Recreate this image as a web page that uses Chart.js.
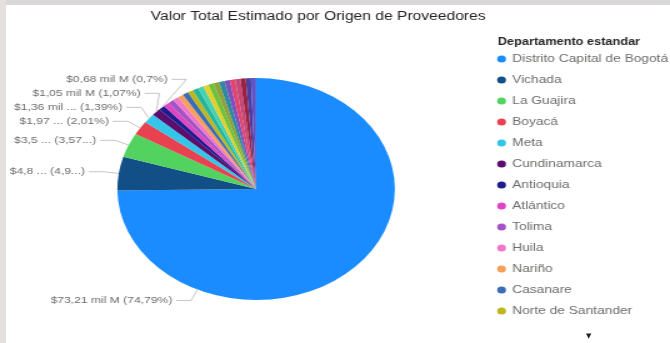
<!DOCTYPE html>
<html><head><meta charset="utf-8">
<script src="https://cdn.jsdelivr.net/npm/chart.js@4.4.1/dist/chart.umd.min.js"></script>
<style>
html,body{margin:0;padding:0;background:#fff;width:670px;height:343px;overflow:hidden;}
#wrap{position:absolute;left:0;top:0;width:536px;height:343px;transform:scaleX(1.25);transform-origin:0 0;}
#c{display:block;width:536px;height:343px;}
.frameTop{position:absolute;left:0;top:0;width:670px;height:5px;background:#d9d7d7;}
.frameLeft{position:absolute;left:0;top:0;width:6px;height:343px;background:#e3dfdf;}
#arrow{position:absolute;left:586px;top:332px;font:7px "DejaVu Sans",sans-serif;color:#252423;}
</style></head>
<body>
<div id="wrap"><canvas id="c" width="536" height="343"></canvas></div>
<div class="frameTop"></div><div class="frameLeft"></div>
<div id="arrow">▼</div>
<script>
// ---- data ----
const chartTitle = 'Valor Total Estimado por Origen de Proveedores';
const legendTitle = 'Departamento estandar';
const categories = [
  'Distrito Capital de Bogotá','Vichada','La Guajira','Boyacá','Meta','Cundinamarca','Antioquia',
  'Atlántico','Tolima','Huila','Nariño','Casanare','Norte de Santander',
  'Valle del Cauca','Santander','Bolívar','Caldas','Risaralda','Quindío','Magdalena','Cesar',
  'Córdoba','Sucre','Cauca','Caquetá'
];
// valores en mil M
const values = [
  73.21, 4.80, 3.50, 1.97, 1.36, 1.05, 0.68,
  0.68, 0.67, 0.66, 0.66, 0.65, 0.64,
  0.64, 0.63, 0.63, 0.62, 0.62, 0.62, 0.61, 0.61,
  0.60, 0.60, 0.60, 0.58
];
const colors = [
  '#1A8CFF','#134F87','#52D25E','#E8414F','#33C6E8','#5A0E6E','#1C1C8F',
  '#E044C1','#A254C6','#F178C9','#F5A05C','#3B6CB5','#BDB61F',
  '#24B49A','#47D1B0','#E3CF2B','#6DC13B','#8FA23A','#2B8A9E','#7E4FBF','#E0456E',
  '#C2497A','#9E1F3F','#4B3F9E','#5B55C8'
];
const dataLabelText = [
  '$73,21 mil M (74,79%)',
  '$4,8 ... (4,9...)',
  '$3,5 ... (3,57...)',
  '$1,97 ... (2,01%)',
  '$1,36 mil ... (1,39%)',
  '$1,05 mil M (1,07%)',
  '$0,68 mil M (0,7%)'
];
const legendCount = 13;

// ---- chart ----
const FONT = '"Liberation Sans", Arial, sans-serif';
Chart.defaults.font.family = FONT;

const tweak = {
  id: 'tweak',
  afterLayout(chart, args, opts) {
    const lg = chart.legend;
    lg.left += opts.legendShift; lg.right += opts.legendShift;
    const t = chart.titleBlock;
    t.left = 0; t.right = opts.titleRight; t.width = opts.titleRight;
  },
  afterDraw(chart, args, opts) {
    const ctx = chart.ctx;
    const lg = chart.legend;
    ctx.save();
    // legend header
    ctx.font = 'bold 10.2px ' + FONT;
    ctx.fillStyle = '#252423';
    ctx.textAlign = 'left';
    ctx.textBaseline = 'middle';
    ctx.fillText(legendTitle, lg.left + lg.options.labels.padding, opts.headerY);

    // data labels with leader lines
    const meta = chart.getDatasetMeta(0);
    const items = [];
    dataLabelText.forEach((txt, i) => {
      const p = meta.data[i].getProps(['x','y','startAngle','endAngle','outerRadius'], true);
      const a = (opts.anchorAngles[i] != null) ? opts.anchorAngles[i] * Math.PI / 180 : (p.startAngle + p.endAngle) / 2;
      const R = p.outerRadius + opts.ringGap;
      items.push({txt, cx: p.x, cy: p.y, r: p.outerRadius, R, a, y: p.y + Math.sin(a) * R});
    });
    const upper = items.filter(it => Math.sin(it.a) < 0).sort((u, v) => v.y - u.y);
    let prev = Infinity;
    upper.forEach(it => { it.y = Math.min(it.y, prev - opts.minGap); prev = it.y; });
    ctx.font = '9.7px ' + FONT;
    ctx.lineWidth = 1;
    items.forEach(it => {
      const dy = it.y - it.cy;
      const dx = Math.sqrt(Math.max(it.R * it.R - dy * dy, 0));
      const side = Math.cos(it.a) < 0 ? -1 : 1;
      const ex = it.cx + side * dx;
      const rx = it.cx + Math.cos(it.a) * it.r, ry = it.cy + Math.sin(it.a) * it.r;
      ctx.strokeStyle = '#C8C6C4';
      ctx.beginPath();
      ctx.moveTo(rx, ry); ctx.lineTo(ex, it.y); ctx.lineTo(ex + side * opts.tail, it.y);
      ctx.stroke();
      ctx.fillStyle = '#6E6C6A';
      ctx.textAlign = side < 0 ? 'right' : 'left';
      ctx.fillText(it.txt, ex + side * (opts.tail + opts.textGap), it.y);
    });
    ctx.restore();
  }
};

new Chart(document.getElementById('c'), {
  type: 'pie',
  data: {
    labels: categories,
    datasets: [{ data: values, backgroundColor: colors, borderWidth: 0, radius: 111 }]
  },
  options: {
    responsive: false,
    devicePixelRatio: 1,
    animation: false,
    events: [],
    layout: { padding: { left: 30, right: 0, top: 0, bottom: 8.5 } },
    plugins: {
      title: {
        display: true, text: chartTitle, color: '#252423',
        font: { size: 12.5, weight: 'normal', family: FONT, lineHeight: 1.2 },
        padding: { top: 9, bottom: 19.5 }
      },
      legend: {
        position: 'right', align: 'start', fullSize: false,
        labels: {
          usePointStyle: true, pointStyle: 'circle', boxWidth: 6, boxHeight: 5, padding: 10,
          color: '#605E5C', font: { size: 11, family: FONT },
          generateLabels: (chart) => categories.slice(0, legendCount).map((c, i) => ({
            text: c, fillStyle: colors[i], strokeStyle: colors[i], lineWidth: 0,
            pointStyle: 'circle', hidden: false, index: i, fontColor: '#6E6C6A'
          }))
        }
      },
      tooltip: { enabled: false },
      tweak: {
        legendShift: 8.5, titleRight: 509, headerY: 42,
        anchorAngles: { 0: 115 }, ringGap: 12, minGap: 14, tail: 12, textGap: 3
      }
    }
  },
  plugins: [tweak]
});
</script>
</body></html>
